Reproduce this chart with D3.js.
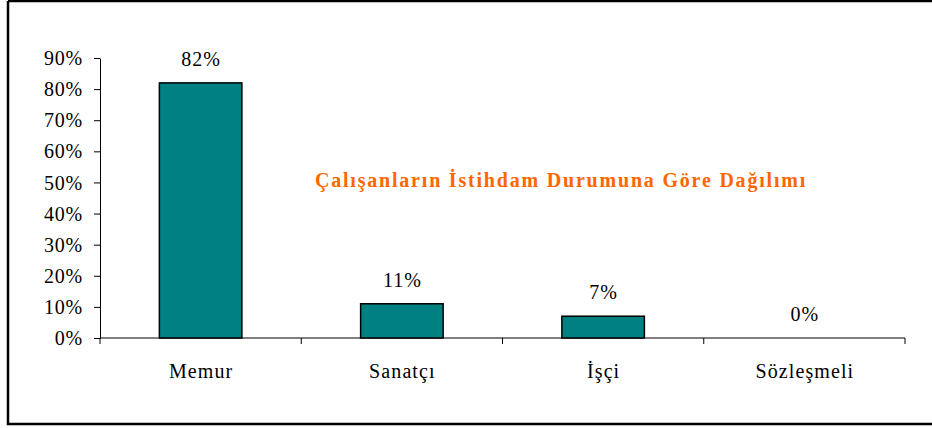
<!DOCTYPE html>
<html><head><meta charset="utf-8">
<script src="https://cdn.jsdelivr.net/npm/d3@7"></script>
<style>body{margin:0;background:#fff;} svg{display:block;}</style>
</head><body><svg id="c" width="932" height="428"></svg>
<script>
const categories = ["Memur", "Sanatçı", "İşçi", "Sözleşmeli"];
const values = [82, 11, 7, 0];
const valueLabels = ["82%", "11%", "7%", "0%"];
const yTicks = [0, 10, 20, 30, 40, 50, 60, 70, 80, 90];
const title = "Çalışanların İstihdam Durumuna Göre Dağılımı";

const svg = d3.select("#c");
const font = "'Liberation Serif','Times New Roman',serif";
// frame
svg.append("path").attr("d","M8,1 H932 M8,1 V424 H932").attr("fill","none").attr("stroke","#000").attr("stroke-width",2.5);

const x = d3.scaleBand().domain(categories).range([100, 905]).paddingInner(0.59).paddingOuter(0.295);
const y = d3.scaleLinear().domain([0, 90]).range([338, 58]);

const yAxis = svg.append("g").attr("transform","translate(100,0)")
  .call(d3.axisLeft(y).tickValues(yTicks).tickFormat(d => d + "%").tickSize(6).tickSizeOuter(0));
yAxis.select(".domain").attr("stroke","#000");
yAxis.selectAll("text").attr("font-family",font).attr("font-size",20).attr("fill","#000")
  .attr("letter-spacing",0.8).attr("x",-17).attr("dy","0.33em");

// x axis line and category ticks
const xb = d3.scaleBand().domain(categories).range([100, 905]);
svg.append("line").attr("x1",100).attr("x2",905).attr("y1",338).attr("y2",338).attr("stroke","#000");
const bounds = categories.map(c => xb(c)).concat([905]);
svg.selectAll(".xt").data(bounds).join("line").attr("x1",d=>d).attr("x2",d=>d).attr("y1",338).attr("y2",344).attr("stroke","#000");
svg.selectAll(".xl").data(categories).join("text")
  .attr("x", d => xb(d) + xb.bandwidth()/2 + 0.5).attr("y", 378)
  .attr("text-anchor","middle").attr("font-family",font).attr("font-size",20).attr("letter-spacing",1.1).text(d => d);

svg.selectAll(".bar").data(values).join("rect")
  .attr("x",(d,i)=>x(categories[i])).attr("width",x.bandwidth())
  .attr("y",d=>y(d)).attr("height",d=>y(0)-y(d))
  .attr("fill","#008080").attr("stroke","#000").attr("stroke-width",1.5)
  .style("display", d => d > 0 ? null : "none");

svg.selectAll(".vl").data(values).join("text")
  .attr("x",(d,i)=>x(categories[i]) + x.bandwidth()/2 + 0.5).attr("y", d => y(d) - 17)
  .attr("text-anchor","middle").attr("font-family",font).attr("font-size",20).attr("letter-spacing",1).text((d,i)=>valueLabels[i]);

svg.append("text").attr("x",561).attr("y",187).attr("text-anchor","middle")
  .attr("font-family",font).attr("font-size",20).attr("font-weight","bold").attr("fill","#FF6600")
  .attr("letter-spacing",1.8).text(title);
</script></body></html>
